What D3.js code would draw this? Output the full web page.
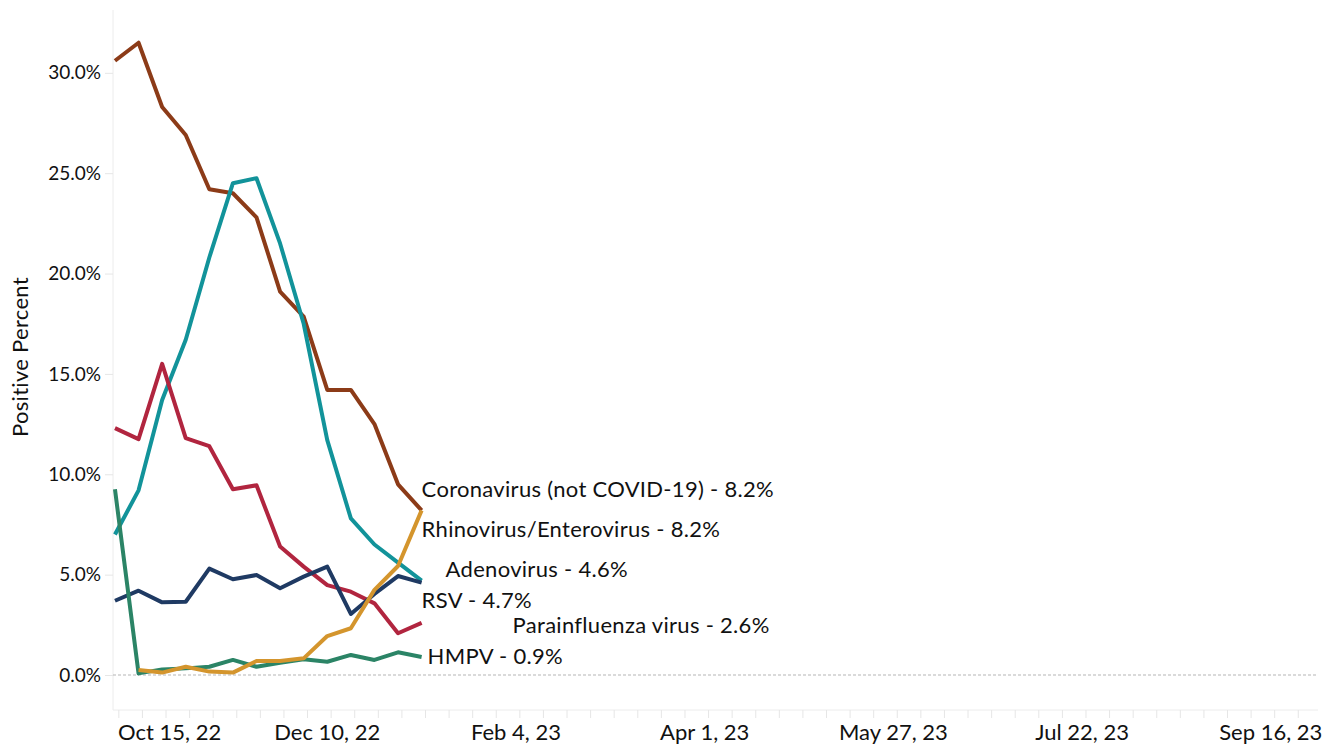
<!DOCTYPE html>
<html>
<head>
<meta charset="utf-8">
<script src="https://cdn.jsdelivr.net/npm/d3@7"></script>
<style>
  body { margin: 0; background: #fff; }
  svg { font-family: Lato, "Open Sans", sans-serif; }
</style>
</head>
<body>
<div id="chart"></div>
<script>
// weekly dates (week ending)
var weeks = ["2022-10-08","2022-10-15","2022-10-22","2022-10-29","2022-11-05","2022-11-12","2022-11-19",
             "2022-11-26","2022-12-03","2022-12-10","2022-12-17","2022-12-24","2022-12-31","2023-01-07"];

// positive percent per virus
var rhinoEntero = [30.6, 31.5, 28.3, 26.9, 24.2, 24.0, 22.8, 19.1, 17.85, 14.2, 14.2, 12.5, 9.5, 8.2];
var rsv         = [7.0, 9.2, 13.7, 16.7, 20.8, 24.5, 24.75, 21.5, 17.5, 11.7, 7.8, 6.5, 5.6, 4.7];
var parainflu   = [12.3, 11.75, 15.5, 11.8, 11.4, 9.25, 9.45, 6.4, 5.4, 4.48, 4.15, 3.57, 2.08, 2.6];
var adenovirus  = [3.7, 4.2, 3.62, 3.65, 5.3, 4.77, 4.98, 4.32, 4.9, 5.4, 3.04, 4.04, 4.93, 4.6];
var coronavirus = [null, 0.25, 0.12, 0.41, 0.17, 0.12, 0.7, 0.7, 0.83, 1.94, 2.33, 4.24, 5.43, 8.2];
var hmpv        = [9.25, 0.08, 0.28, 0.33, 0.41, 0.75, 0.41, 0.61, 0.78, 0.66, 1.0, 0.75, 1.13, 0.9];

var yTicks = [0, 5, 10, 15, 20, 25, 30];
var xTickDates = ["2022-10-15","2022-12-10","2023-02-04","2023-04-01","2023-05-27","2023-07-22","2023-09-16"];

var series = [
  {name: "Coronavirus (not COVID-19)", values: coronavirus, color: "#D4952D", dx: 0, dy: -21},
  {name: "Rhinovirus/Enterovirus", values: rhinoEntero, color: "#8C3B18", dx: 0, dy: 19},
  {name: "Adenovirus", values: adenovirus, color: "#1F3A63", dx: 24, dy: -13},
  {name: "RSV", values: rsv, color: "#12939A", dx: 0, dy: 20},
  {name: "Parainfluenza virus", values: parainflu, color: "#B1253F", dx: 91, dy: 2},
  {name: "HMPV", values: hmpv, color: "#2B8466", dx: 6, dy: -1}
];

var margin = {top: 10, right: 7, bottom: 36, left: 113},
    width = 1325 - margin.left - margin.right,
    height = 746 - margin.top - margin.bottom;

var parse = d3.timeParse("%Y-%m-%d");
var dates = weeks.map(parse);

var svg = d3.select("#chart").append("svg")
    .attr("width", 1325).attr("height", 746);

var g = svg.append("g")
    .attr("transform", "translate(" + margin.left + "," + margin.top + ")");

var x = d3.scaleTime()
    .domain([d3.timeHour.offset(parse("2022-10-08"), -14), parse("2023-09-30")])
    .range([0, width]);

var y = d3.scaleLinear()
    .domain([0, 33.13])
    .range([665, 0]);

// y axis
var yAxis = g.append("g")
    .call(d3.axisLeft(y).tickValues(yTicks).tickSize(8).tickPadding(4)
      .tickFormat(function (d) { return d3.format(".1f")(d) + "%"; }));
yAxis.select(".domain").attr("d", "M0,0V" + height).attr("stroke", "#ececec");
yAxis.selectAll(".tick line").attr("stroke", "#e6e6e6");
yAxis.selectAll(".tick text").attr("font-size", 19).attr("fill", "#111")
    .attr("font-family", "Lato, sans-serif");

// x axis with weekly minor ticks
var minor = d3.timeWeek.every(1).range(x.domain()[0], x.domain()[1]);
var xAxisG = g.append("g").attr("transform", "translate(0," + height + ")");
xAxisG.call(d3.axisBottom(x).tickValues(minor).tickSize(8).tickFormat(""));
xAxisG.select(".domain").attr("d", "M0,0H" + width).attr("stroke", "#ececec");
xAxisG.selectAll(".tick line").attr("stroke", "#e6e6e6");

var labelDates = xTickDates.map(parse);
var xl = g.append("g").attr("transform", "translate(0," + height + ")")
    .selectAll("text").data(labelDates).enter().append("text")
    .attr("x", function (d) { return x(d); })
    .attr("y", 30)
    .attr("text-anchor", "middle")
    .attr("font-size", 22)
    .attr("fill", "#111")
    .text(function (d) { return d3.timeFormat("%b %-d, %y")(d); });
// keep first label inside the axis
xl.each(function (d) {
  var w = this.getComputedTextLength();
  if (x(d) - w / 2 < 5) d3.select(this).attr("x", 5 + w / 2);
});

// zero reference line
g.append("line")
    .attr("x1", 0).attr("x2", width)
    .attr("y1", y(0)).attr("y2", y(0))
    .attr("stroke", "#b5b5b5").attr("stroke-dasharray", "3,2").attr("stroke-width", 1);

// y title
svg.append("text")
    .attr("transform", "translate(28," + 357 + ") rotate(-90)")
    .attr("text-anchor", "middle")
    .attr("font-size", 22)
    .attr("letter-spacing", 0.3)
    .attr("fill", "#111")
    .text("Positive Percent");

// lines
var line = d3.line()
    .defined(function (d) { return d.v != null; })
    .x(function (d) { return x(d.date); })
    .y(function (d) { return y(d.v); });

var drawOrder = [1, 3, 4, 2, 5, 0];
drawOrder.forEach(function (i) {
  var s = series[i];
  var pts = s.values.map(function (v, j) { return {date: dates[j], v: v}; });
  g.append("path")
      .datum(pts)
      .attr("fill", "none")
      .attr("stroke", s.color)
      .attr("stroke-width", 4)
      .attr("stroke-linejoin", "round")
      .attr("d", line);
});

// end labels
series.forEach(function (s) {
  var last = s.values[s.values.length - 1];
  g.append("text")
      .attr("x", x(dates[dates.length - 1]) + s.dx)
      .attr("y", y(last) + s.dy)
      .attr("dy", "0.35em")
      .attr("font-size", 22)
      .attr("letter-spacing", 0.3)
      .attr("fill", "#111")
      .text(s.name + " - " + d3.format(".1f")(last) + "%");
});
</script>
</body>
</html>
